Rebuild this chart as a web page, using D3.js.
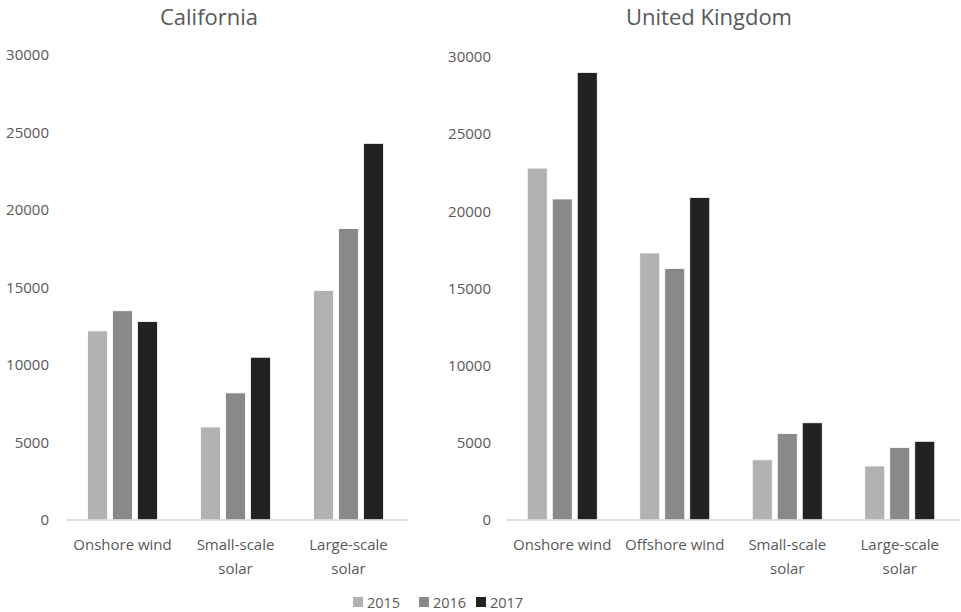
<!DOCTYPE html>
<html>
<head>
<meta charset="utf-8">
<script src="https://cdn.jsdelivr.net/npm/d3@7"></script>
<style>
  html, body { margin: 0; padding: 0; background: #fff; }
  svg { display: block; font-family: "Open Sans", "Segoe UI", sans-serif; }
</style>
</head>
<body>
<svg id="chart" width="961" height="612"></svg>
<script>
// Renewable generation by technology, 2015–2017
const years = ["2015", "2016", "2017"];
const yearColors = ["#b2b2b2", "#898989", "#222222"];
const yTicks = [0, 5000, 10000, 15000, 20000, 25000, 30000];

const caCategories = ["Onshore wind", "Small-scale solar", "Large-scale solar"];
const ca2015 = [12200, 6000, 14800];
const ca2016 = [13500, 8200, 18800];
const ca2017 = [12800, 10500, 24300];

const ukCategories = ["Onshore wind", "Offshore wind", "Small-scale solar", "Large-scale solar"];
const uk2015 = [22800, 17300, 3900, 3500];
const uk2016 = [20800, 16300, 5600, 4700];
const uk2017 = [29000, 20900, 6300, 5100];

const textColor = "#595959";
const svg = d3.select("#chart");

function wrapLabel(label) {
  // the wind labels fit on one line; the solar ones break before "solar"
  if (label === "Onshore wind" || label === "Offshore wind") return [label];
  const i = label.lastIndexOf(" ");
  return [label.slice(0, i), label.slice(i + 1)];
}

function panel(opts) {
  const { title, titleX, categories, series, xRange, yRange, labelX } = opts;
  const g = svg.append("g");

  const x0 = d3.scaleBand().domain(categories).range(xRange);
  const x1 = d3.scaleBand().domain(years).range([-35, 35]).paddingInner(0.2).paddingOuter(0);
  const y = d3.scaleLinear().domain([0, 30000]).range(yRange);

  // value axis labels
  const yAxis = d3.axisLeft(y).tickValues(yTicks).tickSize(0).tickPadding(0).tickFormat(d3.format("d"));
  const ya = g.append("g").attr("transform", `translate(${labelX},0)`).call(yAxis);
  ya.select(".domain").remove();
  ya.selectAll("text").attr("fill", textColor).style("font-size", "15px")
    .style("font-family", "'Open Sans', sans-serif");

  // bars
  const rows = categories.map((c, i) => years.map((yr, k) => ({ cat: c, year: yr, k, value: series[k][i] })));
  g.selectAll("g.grp").data(rows).join("g")
    .attr("transform", d => `translate(${x0(d[0].cat) + x0.bandwidth() / 2},0)`)
    .selectAll("rect").data(d => d).join("rect")
      .attr("x", d => x1(d.year))
      .attr("width", x1.bandwidth())
      .attr("y", d => y(d.value))
      .attr("height", d => y(0) - y(d.value))
      .attr("fill", d => yearColors[d.k])
      .attr("stroke", "#ffffff")
      .attr("stroke-width", 0.8);

  // baseline and category labels
  const xAxis = d3.axisBottom(x0).tickSize(0).tickPadding(0);
  const xa = g.append("g").attr("transform", `translate(0,${y(0)})`).call(xAxis);
  xa.select(".domain").attr("stroke", "#d9d9d9").attr("stroke-width", 1.3)
    .attr("d", `M${xRange[0]},0H${xRange[1] + 4}`);
  xa.selectAll(".tick text").each(function(d) {
    const t = d3.select(this).text(null).attr("y", 0).attr("dy", null)
      .attr("fill", textColor).style("font-size", "15px")
      .style("font-family", "'Open Sans', sans-serif");
    wrapLabel(d).forEach((line, i) => {
      t.append("tspan").attr("x", 0).attr("y", 30 + i * 24).text(line);
    });
  });

  g.append("text")
    .attr("x", titleX).attr("y", 25)
    .attr("text-anchor", "middle")
    .attr("fill", textColor)
    .style("font-size", "22px")
    .text(title);
}

panel({
  title: "California", titleX: 209,
  categories: caCategories, series: [ca2015, ca2016, ca2017],
  xRange: [66, 405], yRange: [520, 55], labelX: 49
});

panel({
  title: "United Kingdom", titleX: 709,
  categories: ukCategories, series: [uk2015, uk2016, uk2017],
  xRange: [506, 956], yRange: [520, 57], labelX: 491
});

// legend
const legend = svg.append("g").attr("transform", "translate(353,0)");
const item = legend.selectAll("g").data(years).join("g")
  .attr("transform", (d, i) => `translate(${[0, 66, 123][i]},0)`);
item.append("rect").attr("x", 0).attr("y", 597).attr("width", 10).attr("height", 10)
  .attr("fill", (d, i) => yearColors[i]);
item.append("text").attr("x", 14).attr("y", 608)
  .attr("fill", textColor).style("font-size", "14.5px").text(d => d);
</script>
</body>
</html>
